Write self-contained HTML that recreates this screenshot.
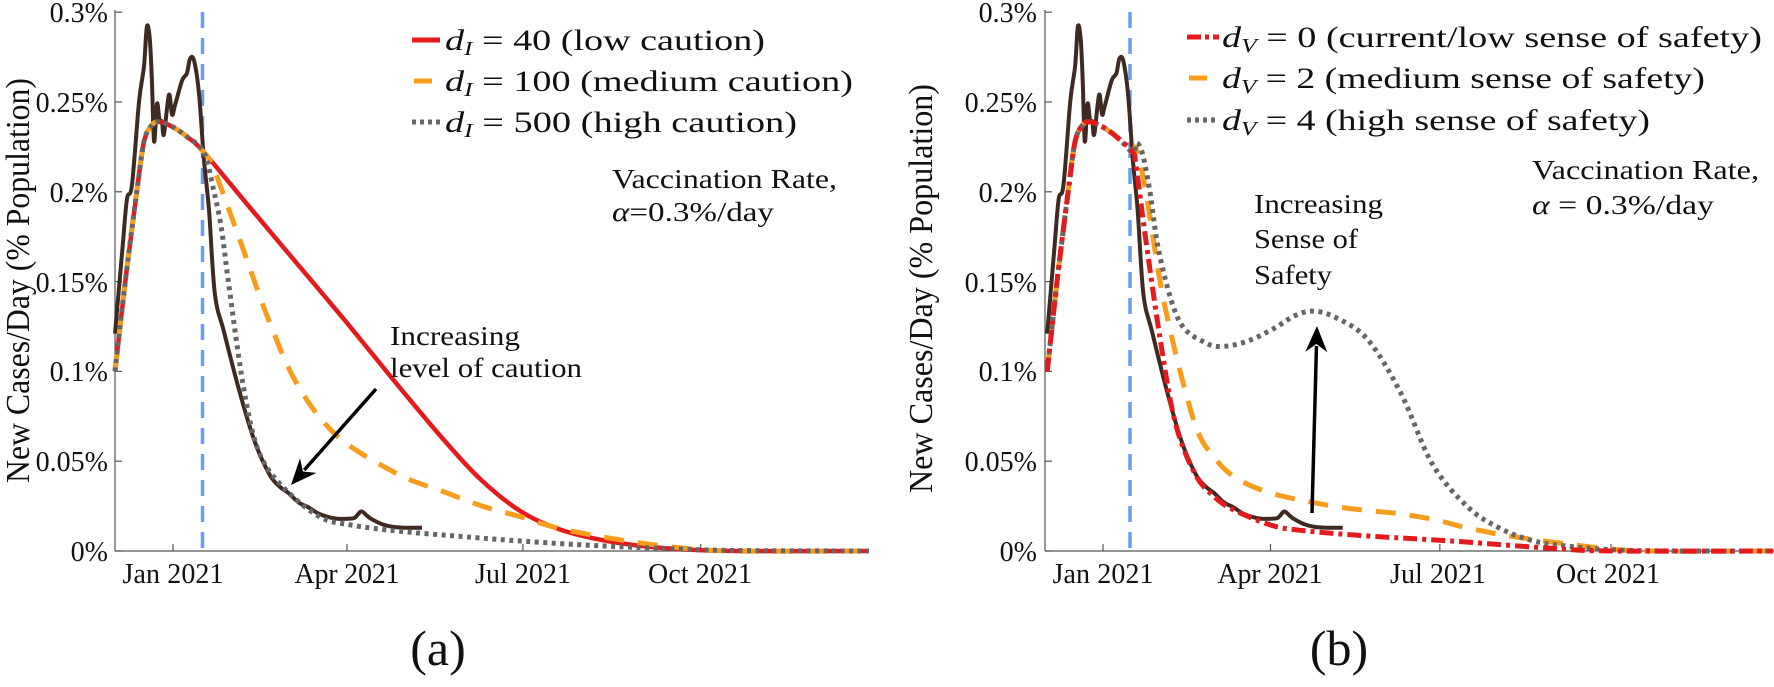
<!DOCTYPE html>
<html><head><meta charset="utf-8"><style>
html,body{margin:0;padding:0;background:#fff;}
svg{display:block;}
svg text{font-family:"Liberation Serif","DejaVu Serif","Times New Roman",serif;fill:#111;}
</style></head><body>
<svg id="s" width="1774" height="687" viewBox="0 0 1774 687" xmlns="http://www.w3.org/2000/svg">
<g id="plots"></g>
<g font-size="28">
<text x="108" y="22" text-anchor="end">0.3%</text>
<text x="108" y="112" text-anchor="end">0.25%</text>
<text x="108" y="202" text-anchor="end">0.2%</text>
<text x="108" y="292" text-anchor="end">0.15%</text>
<text x="108" y="381" text-anchor="end">0.1%</text>
<text x="108" y="471" text-anchor="end">0.05%</text>
<text x="108" y="561" text-anchor="end">0%</text>
<text x="173" y="583" text-anchor="middle" textLength="101">Jan 2021</text>
<text x="347" y="583" text-anchor="middle" textLength="105">Apr 2021</text>
<text x="523" y="583" text-anchor="middle" textLength="96">Jul 2021</text>
<text x="700" y="583" text-anchor="middle" textLength="104">Oct 2021</text>
<text x="1037" y="22" text-anchor="end">0.3%</text>
<text x="1037" y="112" text-anchor="end">0.25%</text>
<text x="1037" y="202" text-anchor="end">0.2%</text>
<text x="1037" y="292" text-anchor="end">0.15%</text>
<text x="1037" y="381" text-anchor="end">0.1%</text>
<text x="1037" y="471" text-anchor="end">0.05%</text>
<text x="1037" y="561" text-anchor="end">0%</text>
<text x="1103" y="583" text-anchor="middle" textLength="101">Jan 2021</text>
<text x="1270" y="583" text-anchor="middle" textLength="105">Apr 2021</text>
<text x="1438" y="583" text-anchor="middle" textLength="96">Jul 2021</text>
<text x="1608" y="583" text-anchor="middle" textLength="104">Oct 2021</text>
</g>
<text font-size="34" transform="translate(29,483) rotate(-90)" textLength="405" lengthAdjust="spacingAndGlyphs">New Cases/Day (% Population)</text>
<text font-size="34" transform="translate(932,493) rotate(-90)" textLength="409" lengthAdjust="spacingAndGlyphs">New Cases/Day (% Population)</text>
<g font-size="30">
<line x1="412" y1="40" x2="440" y2="40" stroke="#e41a1c" stroke-width="5"/>
<line x1="414" y1="81" x2="432" y2="81" stroke="#f89c1c" stroke-width="5"/>
<line x1="412" y1="122" x2="440" y2="122" stroke="#666" stroke-width="5" stroke-dasharray="4 4"/>
<text x="445" y="50" textLength="320" lengthAdjust="spacingAndGlyphs"><tspan font-style="italic">d</tspan><tspan font-style="italic" font-size="20" dy="5">I</tspan><tspan dy="-5"> = 40 (low caution)</tspan></text>
<text x="445" y="91" textLength="408" lengthAdjust="spacingAndGlyphs"><tspan font-style="italic">d</tspan><tspan font-style="italic" font-size="20" dy="5">I</tspan><tspan dy="-5"> = 100 (medium caution)</tspan></text>
<text x="445" y="132" textLength="352" lengthAdjust="spacingAndGlyphs"><tspan font-style="italic">d</tspan><tspan font-style="italic" font-size="20" dy="5">I</tspan><tspan dy="-5"> = 500 (high caution)</tspan></text>
<line x1="1187" y1="37" x2="1219" y2="37" stroke="#e41a1c" stroke-width="5" stroke-dasharray="14 4 4 4"/>
<line x1="1189" y1="78" x2="1207" y2="78" stroke="#f89c1c" stroke-width="5"/>
<line x1="1187" y1="120" x2="1219" y2="120" stroke="#666" stroke-width="5" stroke-dasharray="4 4"/>
<text x="1222" y="47" textLength="540" lengthAdjust="spacingAndGlyphs"><tspan font-style="italic">d</tspan><tspan font-style="italic" font-size="20" dy="5">V</tspan><tspan dy="-5"> = 0 (current/low sense of safety)</tspan></text>
<text x="1222" y="88" textLength="483" lengthAdjust="spacingAndGlyphs"><tspan font-style="italic">d</tspan><tspan font-style="italic" font-size="20" dy="5">V</tspan><tspan dy="-5"> = 2 (medium sense of safety)</tspan></text>
<text x="1222" y="130" textLength="428" lengthAdjust="spacingAndGlyphs"><tspan font-style="italic">d</tspan><tspan font-style="italic" font-size="20" dy="5">V</tspan><tspan dy="-5"> = 4 (high sense of safety)</tspan></text>
</g>
<g font-size="27">
<text x="612" y="188" textLength="225" lengthAdjust="spacingAndGlyphs">Vaccination Rate,</text>
<text x="612" y="221" textLength="162" lengthAdjust="spacingAndGlyphs"><tspan font-style="italic">α</tspan>=0.3%/day</text>
<text x="1532" y="179" textLength="227" lengthAdjust="spacingAndGlyphs">Vaccination Rate,</text>
<text x="1532" y="214" textLength="182" lengthAdjust="spacingAndGlyphs"><tspan font-style="italic">α</tspan> = 0.3%/day</text>
<text x="390" y="345" textLength="130" lengthAdjust="spacingAndGlyphs">Increasing</text>
<text x="390" y="377" textLength="192" lengthAdjust="spacingAndGlyphs">level of caution</text>
<text x="1254" y="213" textLength="129" lengthAdjust="spacingAndGlyphs">Increasing</text>
<text x="1254" y="248" textLength="104" lengthAdjust="spacingAndGlyphs">Sense of</text>
<text x="1254" y="284" textLength="78" lengthAdjust="spacingAndGlyphs">Safety</text>
</g>
<text x="438" y="665" font-size="50" text-anchor="middle">(a)</text>
<text x="1339" y="665" font-size="50" text-anchor="middle">(b)</text>
</svg>
<script>
const NS="http://www.w3.org/2000/svg";
const G=document.getElementById("plots");
function el(n,a){const e=document.createElementNS(NS,n);for(const k in a)e.setAttribute(k,a[k]);G.appendChild(e);return e;}
function Y(v){return 551-v*1796;}
function path(pts,X){
  const p=pts.map(q=>[X(q[0]),Y(q[1])]);
  let d="M"+p[0][0].toFixed(1)+","+p[0][1].toFixed(1);
  for(let i=0;i<p.length-1;i++){
    const p0=p[Math.max(0,i-1)],p1=p[i],p2=p[i+1],p3=p[Math.min(p.length-1,i+2)];
    const c1=[p1[0]+(p2[0]-p0[0])/6,p1[1]+(p2[1]-p0[1])/6];
    const c2=[p2[0]-(p3[0]-p1[0])/6,p2[1]-(p3[1]-p1[1])/6];
    d+="C"+c1.map(v=>v.toFixed(1))+" "+c2.map(v=>v.toFixed(1))+" "+p2.map(v=>v.toFixed(1));
  }
  return d;
}
const brown=[[-30,0.121],[-26,0.17],[-23.8,0.196],[-21.2,0.204],[-17.6,0.25],[-15,0.27],[-13.5,0.292],[-12,0.285],[-10.9,0.262],[-9.8,0.228],[-8.3,0.249],[-7,0.24],[-5.7,0.239],[-4.7,0.232],[-2.1,0.254],[-0.5,0.243],[1,0.248],[4.7,0.262],[7.2,0.266],[8.8,0.274],[10.9,0.273],[13.5,0.254],[16,0.218],[18.6,0.19],[21.7,0.143],[26.4,0.122],[34.1,0.09],[41.9,0.062],[49.7,0.043],[55,0.036],[60,0.032],[65,0.027],[69.8,0.0245],[75,0.021],[80.2,0.019],[85,0.018],[90.5,0.018],[94,0.0185],[97.3,0.022],[100,0.02],[102.4,0.018],[108,0.015],[113.8,0.0134],[120,0.013],[128.8,0.013]];
const start=[[-30,0.1],[-24,0.156],[-18.6,0.201],[-15,0.228],[-11,0.237],[-7.2,0.239],[0,0.236],[8,0.23],[16,0.222]];
const lRed=start.concat([[40,0.191],[65,0.159],[90,0.127],[115,0.094],[140,0.062],[160,0.039],[180,0.022],[200,0.012],[225,0.0055],[255,0.0015],[290,0],[360,0]]);
const lOr=start.concat([[21,0.213],[34,0.175],[49.7,0.128],[64.7,0.092],[85,0.064],[116,0.043],[140,0.033],[160,0.025],[180,0.019],[199,0.0128],[228,0.0068],[260,0.002],[290,0],[360,0]]);
const lGr=start.concat([[21,0.201],[25,0.18],[29,0.147],[36.7,0.09],[44.5,0.055],[57.4,0.035],[76,0.019],[92,0.0145],[117,0.011],[150,0.008],[174,0.006],[210,0.0035],[247,0.0017],[290,0.0003],[360,0]]);
const rRed=start.concat([[17.7,0.215],[22.8,0.175],[30.6,0.119],[38.7,0.072],[49.4,0.043],[60,0.03],[70.4,0.0228],[90,0.0145],[106,0.0115],[140,0.0085],[188,0.0055],[245,0.0012],[275,0],[360,0]]);
const rOr=start.concat([[17.7,0.224],[22.8,0.2015],[33,0.1375],[49,0.072],[60,0.052],[70,0.0417],[85,0.034],[103,0.029],[130,0.024],[160,0.0206],[180,0.017],[196,0.0128],[222,0.0078],[267,0.0017],[295,0],[360,0]]);
const rGr=start.concat([[18,0.227],[21,0.222],[25,0.2015],[30.6,0.164],[41,0.128],[55,0.116],[65,0.114],[78,0.117],[92,0.124],[103,0.131],[113,0.1336],[125,0.13],[142,0.118],[160,0.088],[177,0.0484],[196,0.0245],[213,0.0128],[230,0.006],[249,0.0028],[285,0.0003],[360,0]]);
function panel(X,x0,x1,ticks,blue,sets){
  el("line",{x1:x0,y1:10,x2:x0,y2:551,stroke:"#555","stroke-width":1.2});
  el("line",{x1:x0,y1:551,x2:x1,y2:551,stroke:"#555","stroke-width":1.2});
  for(let i=0;i<=6;i++){const y=Y(i*0.05);el("line",{x1:x0,y1:y,x2:x0+7,y2:y,stroke:"#555","stroke-width":1.2});}
  ticks.forEach(t=>el("line",{x1:X(t),y1:551,x2:X(t),y2:544,stroke:"#555","stroke-width":1.2}));
  el("line",{x1:blue,y1:12,x2:blue,y2:551,stroke:"#6a9cf0","stroke-width":3.5,"stroke-dasharray":"16 10"});
  sets.forEach(s=>el("path",Object.assign({d:path(s.d,X),fill:"none","stroke-linejoin":"round"},s.a)));
}
const XL=t=>173+t*1.933, XR=t=>1103+t*1.861;
const bA={stroke:"#3f2a22","stroke-width":4};
panel(XL,115,868,[0,90,181,273],202.5,[
 {d:brown,a:bA},
 {d:lRed,a:{stroke:"#e41a1c","stroke-width":4.5}},
 {d:lOr,a:{stroke:"#f89c1c","stroke-width":5,"stroke-dasharray":"20 14"}},
 {d:lGr,a:{stroke:"#666","stroke-width":5,"stroke-dasharray":"4 4.5"}}
]);
panel(XR,1045,1774,[0,90,181,273],1130,[
 {d:brown,a:bA},
 {d:rOr,a:{stroke:"#f89c1c","stroke-width":5,"stroke-dasharray":"20 14"}},
 {d:rGr,a:{stroke:"#666","stroke-width":5,"stroke-dasharray":"4 4.5"}},
 {d:rRed,a:{stroke:"#e41a1c","stroke-width":5,"stroke-dasharray":"14 5 4 5"}}
]);
function arrow(x1,y1,x2,y2){
  const a=Math.atan2(y2-y1,x2-x1),L=26,W=11;
  const bx=x2-L*Math.cos(a),by=y2-L*Math.sin(a);
  el("line",{x1:x1,y1:y1,x2:bx+6*Math.cos(a),y2:by+6*Math.sin(a),stroke:"#000","stroke-width":3.5});
  const px=-Math.sin(a),py=Math.cos(a);
  const nx=x2-(L-8)*Math.cos(a), ny=y2-(L-8)*Math.sin(a);
  el("path",{d:`M${x2},${y2}L${bx+W*px},${by+W*py}L${nx},${ny}L${bx-W*px},${by-W*py}Z`,fill:"#000"});
}
arrow(376,389,291,485);
arrow(1312,513,1317,326);
</script>
</body></html>
